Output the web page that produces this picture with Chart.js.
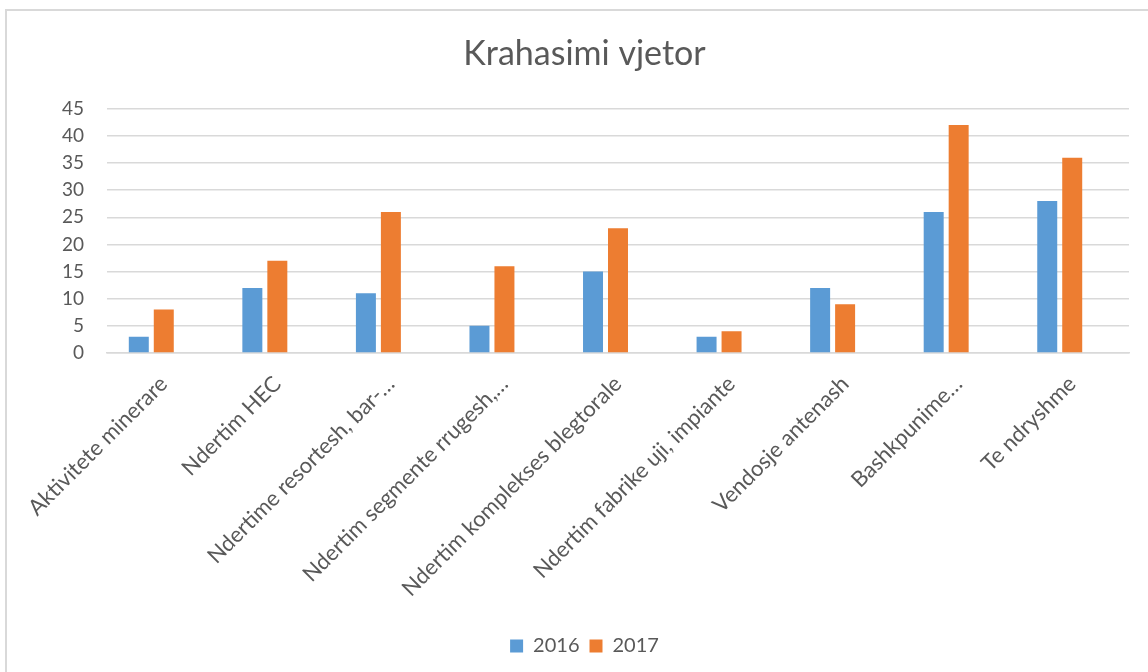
<!DOCTYPE html>
<html><head><meta charset="utf-8">
<script src="https://cdn.jsdelivr.net/npm/chart.js@4.4.0/dist/chart.umd.min.js"></script>
<style>
html,body{margin:0;padding:0;background:#fff;overflow:hidden;width:1148px;height:672px;}
#frame{position:absolute;left:5px;top:9px;width:1160px;height:680px;border:2px solid #d9d9d9;box-sizing:border-box;}
#wrap{position:absolute;left:0;top:0;width:1169px;height:672px;}
</style></head><body>
<div id="frame"></div>
<div id="wrap"><canvas id="c" width="1169" height="672"></canvas></div>
<script>
const categories = [
  'Aktivitete minerare',
  'Ndertim HEC',
  'Ndertime resortesh, bar-\u2026',
  'Ndertim segmente rrugesh,\u2026',
  'Ndertim komplekses blegtorale',
  'Ndertim fabrike uji, impiante',
  'Vendosje antenash',
  'Bashkpunime\u2026',
  'Te ndryshme'
];
const values2016 = [3, 12, 11, 5, 15, 3, 12, 26, 28];
const values2017 = [8, 17, 26, 16, 23, 4, 9, 42, 36];
const emptySeries = [null, null, null, null, null, null, null, null, null];
const seriesNames = ['2016', '2017', ''];
const yMin = 0, yMax = 45, yStep = 5;

const textColor = '#595959';
const gridColor = '#d9d9d9';
const FONT = 'Lato, "Open Sans", sans-serif';

new Chart(document.getElementById('c'), {
  type: 'bar',
  data: {
    labels: categories,
    datasets: [
      { label: seriesNames[0], data: values2016, backgroundColor: '#5B9BD5', barPercentage: 0.8, categoryPercentage: 0.66 },
      { label: seriesNames[1], data: values2017, backgroundColor: '#ED7D31', barPercentage: 0.8, categoryPercentage: 0.66 },
      { label: seriesNames[2], data: emptySeries, backgroundColor: 'rgba(0,0,0,0)', barPercentage: 0.8, categoryPercentage: 0.66 }
    ]
  },
  options: {
    responsive: false,
    animation: false,
    layout: { padding: { left: 0, right: 0, top: 0, bottom: 6 } },
    plugins: {
      title: {
        display: true,
        text: 'Krahasimi vjetor',
        color: textColor,
        font: { family: FONT, size: 34, weight: 'normal' },
        padding: { top: 34, bottom: 34 }
      },
      legend: {
        position: 'bottom',
        labels: {
          color: textColor,
          font: { family: FONT, size: 20 },
          boxWidth: 13, boxHeight: 13,
          padding: 10,
          filter: (item) => item.text !== ''
        }
      },
      tooltip: { enabled: false }
    },
    scales: {
      x: {
        grid: { display: false, drawTicks: false },
        border: { display: true, color: gridColor, width: 1.5 },
        ticks: {
          color: textColor,
          font: { family: FONT, size: 22 },
          maxRotation: 45, minRotation: 45,
          autoSkip: false,
          padding: 18
        },
        afterFit: (s) => { s.height = 273; }
      },
      y: {
        min: yMin, max: yMax,
        grid: { color: gridColor, lineWidth: 1.5, drawTicks: false },
        border: { display: false },
        ticks: {
          stepSize: yStep,
          color: textColor,
          font: { family: FONT, size: 19 },
          padding: 23
        },
        afterFit: (s) => { s.width = 107; }
      },
      yRight: {
        position: 'right',
        display: true,
        grid: { display: false, drawTicks: false },
        border: { display: false },
        ticks: { display: false },
        afterFit: (s) => { s.width = 40; }
      }
    }
  }
});
</script>
</body></html>
